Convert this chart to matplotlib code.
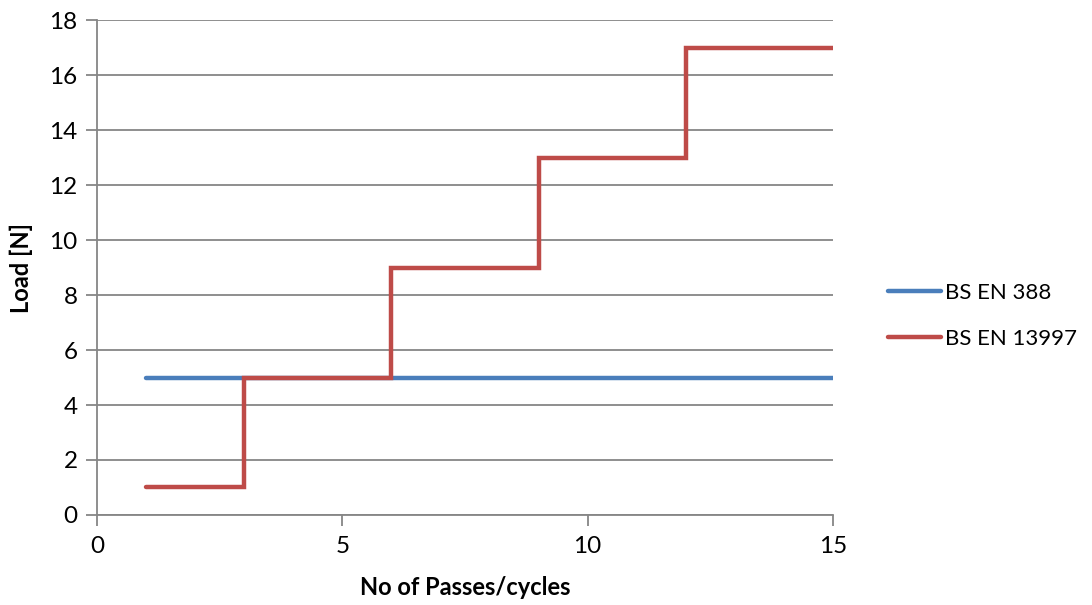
import numpy as np
import matplotlib
matplotlib.use("Agg")
import matplotlib.pyplot as plt

plt.rcParams['font.family'] = ['Lato', 'DejaVu Sans']

# load schedules per standard
passes_388 = [1, 15]
load_388 = [5, 5]
passes_13997 = [1, 3, 6, 9, 12, 15]
load_13997 = [1, 5, 9, 13, 17, 17]

grey = '#868686'

fig = plt.figure(figsize=(10.92, 6.05), dpi=100)
ax = fig.add_axes([0.0888, 0.1488, 0.674, 0.818])

ax.plot(passes_388, load_388, color='#4A7EBB', lw=3.2, solid_capstyle='round',
        label='BS EN 388')
ax.plot(passes_13997, load_13997, color='#BE4B48', lw=3.2, drawstyle='steps-post',
        solid_capstyle='round', solid_joinstyle='miter', label='BS EN 13997')

ax.set_xlim(0, 15)
ax.set_ylim(0, 18)
ax.set_xticks([0, 5, 10, 15])
ax.set_yticks(np.arange(0, 19, 2))
ax.yaxis.grid(True, color=grey, lw=1.3)
ax.set_axisbelow(True)
for s in ['top', 'right']:
    ax.spines[s].set_visible(False)
for s in ['left', 'bottom']:
    ax.spines[s].set_color(grey)
    ax.spines[s].set_linewidth(1.3)
ax.tick_params(colors=grey, labelcolor='black', labelsize=17.5, length=8, width=1.3)
ax.tick_params(axis='x', pad=7)
ax.tick_params(axis='y', pad=6)

ax.set_xlabel('No of Passes/cycles', fontsize=17, fontweight='bold', labelpad=14)
ax.set_ylabel('Load [N]', fontsize=17, fontweight='bold', labelpad=12)

fig.legend(loc='center left', bbox_to_anchor=(0.8031, 0.478), frameon=False,
           fontsize=16, borderpad=0, handlelength=2.4, handletextpad=0.15,
           labelspacing=1.15)

fig.savefig('out.png', dpi=100)
